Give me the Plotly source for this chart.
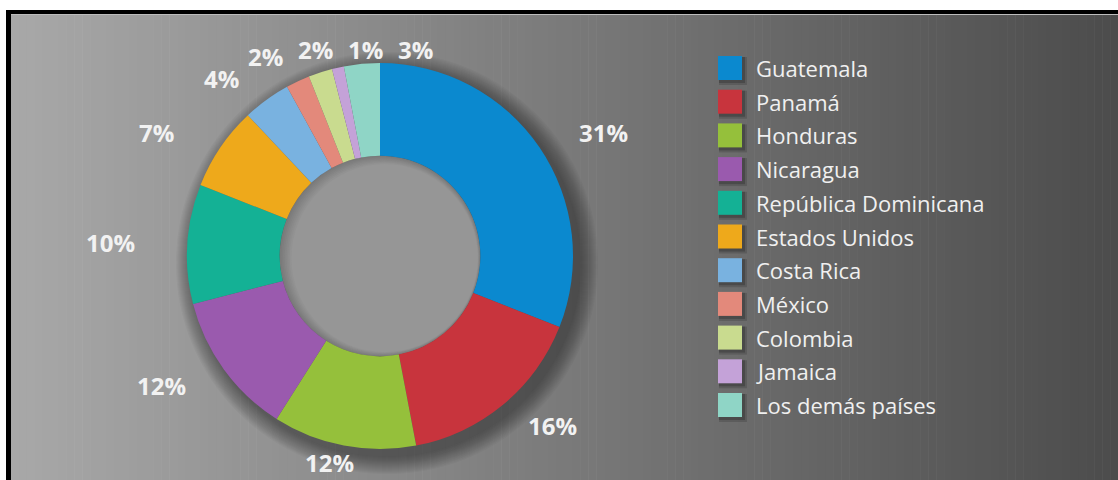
import math
import plotly.graph_objects as go

# ---------------- data ----------------
countries = ["Guatemala", "Panamá", "Honduras", "Nicaragua", "República Dominicana",
             "Estados Unidos", "Costa Rica", "México", "Colombia", "Jamaica",
             "Los demás países"]
shares = [31, 16, 12, 12, 10, 7, 4, 2, 2, 1, 3]
colors = ["#0b89cf", "#c8343d", "#95c03b", "#9a5aae", "#14b195", "#eea91b",
          "#79b2e0", "#e3897b", "#c9db8f", "#c4a2d8", "#8fd5c6"]

W, H = 1118, 480
CX, CY, R = 380, 256, 193       # donut centre/radius in px
HOLE = 0.52

def px(x):
    return x / W

def py(y):
    return 1 - y / H

shapes = []
shapes.append(dict(type="rect", xref="paper", yref="paper", x0=0, x1=1, y0=0, y1=1,
                   fillcolor="white", line=dict(width=0), layer="below"))
# gradient background (strips)
N = 140
x_start, y_top = 11, 14
for i in range(N):
    t = i / (N - 1)
    g = int(round(168 - 92 * t))
    xa = x_start + (W - x_start) * i / N
    xb = x_start + (W - x_start) * (i + 1) / N + 0.6
    shapes.append(dict(type="rect", xref="paper", yref="paper",
                       x0=px(xa), x1=px(min(xb, W)), y0=0, y1=py(y_top),
                       fillcolor=f"rgb({g},{g},{g})", line=dict(width=0), layer="below"))
shapes.append(dict(type="rect", xref="paper", yref="paper", x0=px(11), x1=1,
                   y0=py(15), y1=py(14), fillcolor="#bdbdbd", line=dict(width=0), layer="below"))
shapes.append(dict(type="rect", xref="paper", yref="paper", x0=px(6), x1=1,
                   y0=py(14), y1=py(10), fillcolor="black", line=dict(width=0), layer="below"))
shapes.append(dict(type="rect", xref="paper", yref="paper", x0=px(6), x1=px(11),
                   y0=0, y1=py(10), fillcolor="black", line=dict(width=0), layer="below"))

# soft donut drop shadow
for k in range(18):
    rr = R + 18 - k
    ox, oy = 7, 7
    shapes.append(dict(type="circle", xref="paper", yref="paper",
                       x0=px(CX + ox - rr), x1=px(CX + ox + rr),
                       y0=py(CY + oy + rr), y1=py(CY + oy - rr),
                       fillcolor="rgba(25,25,25,0.03)", line=dict(width=0), layer="below"))
# hole fill with subtle inner shading
rh = R * HOLE
for k in range(8):
    d = k * 1.2
    g = 122 + k * 4
    shapes.append(dict(type="circle", xref="paper", yref="paper",
                       x0=px(CX - rh + d * 1.4), x1=px(CX + rh - d * 0.3),
                       y0=py(CY + rh - d * 0.5), y1=py(CY - rh + d * 1.0),
                       fillcolor=f"rgb({g},{g},{g})", line=dict(width=0), layer="below"))

fig = go.Figure()
fig.add_trace(go.Pie(
    labels=countries, values=shares, sort=False, direction="clockwise", rotation=0,
    hole=HOLE, marker=dict(colors=colors, line=dict(width=0)),
    textinfo="none", showlegend=False, hoverinfo="label+percent",
    domain=dict(x=[px(CX - R), px(CX + R)], y=[py(CY + R), py(CY - R)]),
))

# percentage labels around the ring (computed from the data)
RX, RY, TOP_Y, BOT_Y, GAP = 270, 220, 50, 462, 50
labels = []
cum = 0
for v in shares:
    mid = math.radians((cum + v / 2) / sum(shares) * 360)
    cum += v
    x = CX + RX * math.sin(mid)
    y = CY - RY * math.cos(mid)
    y = min(max(y, TOP_Y), BOT_Y)
    labels.append([x, y, f"{v}%"])
top = sorted([l for l in labels if l[1] < TOP_Y + 25], key=lambda l: l[0])
for a, b in zip(top, top[1:]):
    if b[0] - a[0] < GAP:
        b[0] = a[0] + GAP

annotations = []
for x, y, t in labels:
    annotations.append(dict(x=px(x), y=py(y), xref="paper", yref="paper", text=t,
                            showarrow=False, xanchor="center", yanchor="middle",
                            font=dict(family="Open Sans", size=24, color="#f2f2f2", weight="bold")))

# manual legend
LX, LY0, STEP, SQ = 718, 68, 33.7, 24
for i, (name, c) in enumerate(zip(countries, colors)):
    yc = LY0 + i * STEP
    for s, op in [(5, 0.18), (3, 0.25)]:
        shapes.append(dict(type="rect", xref="paper", yref="paper",
                           x0=px(LX + 1), x1=px(LX + SQ + s), y0=py(yc + SQ / 2 + s), y1=py(yc - SQ / 2 + 1),
                           fillcolor=f"rgba(20,20,20,{op})", line=dict(width=0), layer="below"))
    shapes.append(dict(type="rect", xref="paper", yref="paper",
                       x0=px(LX), x1=px(LX + SQ), y0=py(yc + SQ / 2), y1=py(yc - SQ / 2),
                       fillcolor=c, line=dict(width=0), layer="above"))
    annotations.append(dict(x=px(LX + 36), y=py(yc), xref="paper", yref="paper", text=name,
                            showarrow=False, xanchor="left", yanchor="middle",
                            font=dict(family="Open Sans", size=22, color="#f0f0f0")))

fig.update_layout(
    width=W, height=H, margin=dict(l=0, r=0, t=0, b=0),
    paper_bgcolor="white", plot_bgcolor="rgba(0,0,0,0)",
    xaxis=dict(visible=False), yaxis=dict(visible=False),
    shapes=shapes, annotations=annotations, showlegend=False,
)
fig.write_html("out.html")
